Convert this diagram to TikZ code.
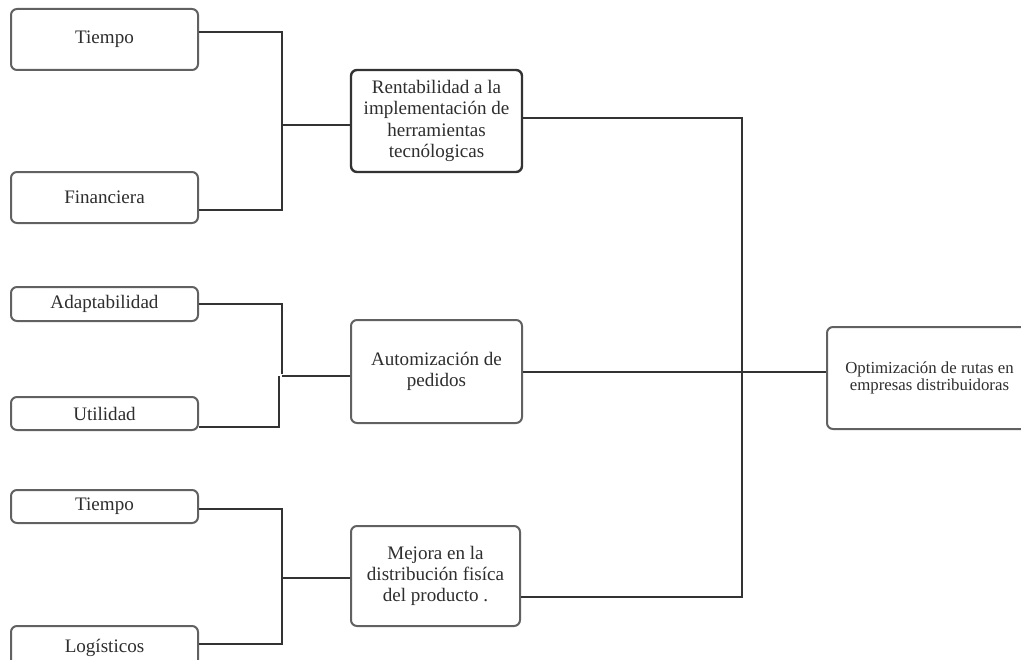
\documentclass[tikz,border=0pt]{standalone}
\usepackage{fontspec}
\setmainfont{Liberation Serif}
\begin{document}
\begin{tikzpicture}[x=0.75pt,y=-0.75pt,
  box/.style={draw=black!62,line width=1.5pt,rounded corners=4.5pt,fill=white,
    align=center,inner sep=1pt,font=\fontsize{14.3}{16}\selectfont,text=black!82},
  conn/.style={draw=black!80,line width=1.5pt}]
\useasboundingbox (0,0) rectangle (1021,660);
\clip (0,0) rectangle (1021,660);
% left boxes
\node[box,minimum width=187*0.75pt,minimum height=61*0.75pt] (t1) at (104.5,39.5) {Tiempo};
\node[box,minimum width=187*0.75pt,minimum height=51*0.75pt] (fin) at (104.5,197.5) {Financiera};
\node[box,minimum width=187*0.75pt,minimum height=34*0.75pt] (ad) at (104.5,304) {Adaptabilidad};
\node[box,minimum width=187*0.75pt,minimum height=33*0.75pt] (ut) at (104.5,413.5) {Utilidad};
\node[box,minimum width=187*0.75pt,minimum height=33*0.75pt] (t3) at (104.5,506.5) {Tiempo};
\node[box,minimum width=187*0.75pt,minimum height=44*0.75pt] (lg) at (104.5,648) {Logísticos};
% middle boxes
\node[box,draw=black!80,line width=1.8pt,minimum width=171*0.75pt,minimum height=102*0.75pt] (r) at (436.5,121)
  {Rentabilidad a la\\implementación de\\herramientas\\tecnólogicas};
\node[box,minimum width=171*0.75pt,minimum height=103*0.75pt] (au) at (436.5,371.5) {Automización de\\pedidos};
\node[box,minimum width=169*0.75pt,minimum height=100*0.75pt] (me) at (435.5,576) {Mejora en la\\distribución fisíca\\del producto .};
% right box
\node[box,minimum width=205*0.75pt,minimum height=102*0.75pt,font=\fontsize{12.6}{13}\selectfont] (opt) at (929.5,378) {Optimización de rutas en\\empresas distribuidoras};
% coordinates
\coordinate (b1a) at (282,32);
\coordinate (b1b) at (282,210);
\coordinate (b1m) at (282,125);
\coordinate (b2a) at (282,304);
\coordinate (b2c) at (282,374);
\coordinate (b2d) at (279,376);
\coordinate (b2b) at (279,427);
\coordinate (b2m) at (282,376);
\coordinate (b3a) at (282,509);
\coordinate (b3b) at (282,644);
\coordinate (b3m) at (282,578);
\coordinate (v1) at (742,118);
\coordinate (v3) at (742,597);
% connectors group 1
\draw[conn] (t1.east |- b1a) -- (b1a) -- (b1b) -- (fin.east |- b1b);
\draw[conn] (b1m) -- (r.west |- b1m);
% group 2
\draw[conn] (ad.east |- b2a) -- (b2a) -- (b2c);
\draw[conn] (ut.east |- b2b) -- (b2b) -- (b2d);
\draw[conn] (b2m) -- (au.west |- b2m);
% group 3
\draw[conn] (t3.east |- b3a) -- (b3a) -- (b3b) -- (lg.east |- b3b);
\draw[conn] (b3m) -- (me.west |- b3m);
% right bus
\draw[conn] (r.east |- v1) -- (v1) -- (v3) -- (me.east |- v3);
\draw[conn] (au.east |- 0,372) -- (opt.west |- 0,372);
\end{tikzpicture}
\end{document}
